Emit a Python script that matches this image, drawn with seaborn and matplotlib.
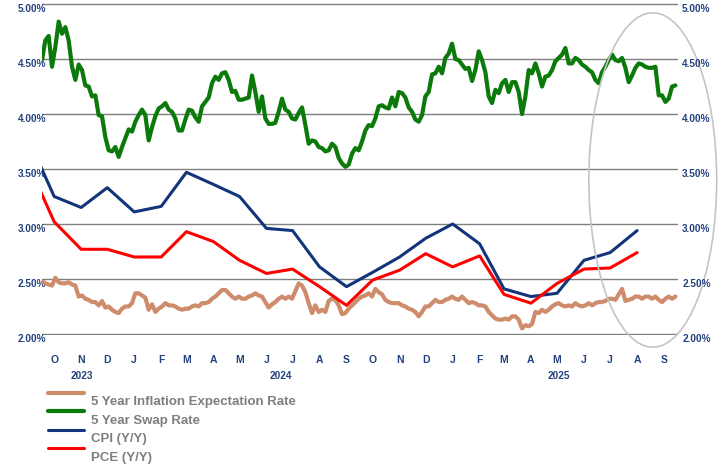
"""
Swap rate, inflation expectations and CPI / PCE prints, Oct 2023 - Sep 2025.
"""

import pandas as pd
import matplotlib
matplotlib.use("Agg")
import matplotlib.pyplot as plt
import matplotlib.dates as mdates
import matplotlib.transforms as mtransforms
from matplotlib.patches import Ellipse
import seaborn as sns

# daily series at even steps from 2023-10-01 to 2025-09-28
swap_5y = [
    4.49, 4.67, 4.71, 4.43, 4.61, 4.84, 4.73, 4.79, 4.67, 4.43,
    4.31, 4.45, 4.40, 4.26, 4.25, 4.16, 4.17, 3.99, 3.98, 3.79,
    3.67, 3.66, 3.70, 3.61, 3.70, 3.78, 3.86, 3.84, 3.93, 3.99,
    4.04, 3.99, 3.76, 3.88, 3.98, 4.05, 4.07, 4.10, 4.04, 4.02,
    3.96, 3.85, 3.85, 3.95, 4.04, 4.03, 3.97, 3.93, 4.07, 4.11,
    4.15, 4.28, 4.34, 4.31, 4.37, 4.38, 4.31, 4.20, 4.21, 4.13,
    4.13, 4.14, 4.15, 4.35,
    4.20, 4.02, 4.16, 3.96, 3.91, 3.91, 3.92, 4.02, 4.14, 4.04,
    4.02, 3.96, 3.95, 4.01, 4.06, 3.90, 3.73, 3.76, 3.75, 3.70,
    3.69, 3.66, 3.67, 3.73, 3.70, 3.60, 3.55, 3.52, 3.54, 3.64,
    3.69, 3.67, 3.75, 3.85, 3.90, 3.89, 3.96, 4.07, 4.08, 4.06,
    4.05, 4.15, 4.07, 4.20, 4.19, 4.15, 4.06, 4.02, 3.95, 3.93,
    3.99, 4.16, 4.20, 4.36, 4.37, 4.43, 4.37, 4.51, 4.55, 4.64,
    4.50, 4.49, 4.45,
    4.41, 4.42, 4.30, 4.40, 4.57, 4.49, 4.38, 4.16, 4.10, 4.22,
    4.19, 4.28, 4.31, 4.20, 4.29, 4.29, 4.20, 4.00, 4.16, 4.40,
    4.37, 4.46, 4.37, 4.25, 4.34, 4.35, 4.40, 4.48, 4.51, 4.54,
    4.60, 4.46, 4.46, 4.51, 4.49, 4.45, 4.43, 4.40, 4.38, 4.31,
    4.28, 4.38, 4.43, 4.49, 4.54, 4.49, 4.48, 4.51, 4.42, 4.29,
    4.35, 4.42, 4.46, 4.45, 4.43, 4.42, 4.42, 4.43, 4.17, 4.17,
    4.11, 4.14, 4.25, 4.26,
]

infl_exp_5y = [
    2.48, 2.46, 2.45, 2.44, 2.51, 2.47, 2.46, 2.46, 2.47, 2.45,
    2.44, 2.34, 2.35, 2.32, 2.31, 2.29, 2.29, 2.26, 2.30, 2.24,
    2.25, 2.22, 2.20, 2.19, 2.23, 2.25, 2.25, 2.28, 2.37, 2.37,
    2.35, 2.33, 2.22, 2.27, 2.20, 2.23, 2.25, 2.28, 2.26, 2.26,
    2.25, 2.23, 2.22, 2.23, 2.23, 2.25, 2.26, 2.25, 2.28, 2.28,
    2.29, 2.32, 2.34, 2.37, 2.40, 2.40, 2.37, 2.34, 2.32, 2.34,
    2.32, 2.32, 2.34, 2.35, 2.37, 2.35, 2.34, 2.29, 2.24, 2.27,
    2.29, 2.32, 2.34, 2.32, 2.34, 2.32, 2.39, 2.46, 2.44, 2.38,
    2.28, 2.19, 2.26, 2.20, 2.22, 2.20, 2.30, 2.32, 2.31, 2.26,
    2.18, 2.19, 2.23, 2.26, 2.29,
    2.32, 2.34, 2.35, 2.37, 2.34, 2.41, 2.38, 2.36, 2.31, 2.29,
    2.28, 2.28, 2.28, 2.26, 2.25, 2.23, 2.22, 2.20, 2.16, 2.20,
    2.25, 2.25, 2.28, 2.31, 2.29, 2.29, 2.31, 2.32, 2.34, 2.32,
    2.31, 2.34, 2.31, 2.28, 2.29, 2.28, 2.26, 2.26, 2.25, 2.20,
    2.17, 2.14, 2.13, 2.13, 2.14, 2.13, 2.16, 2.16, 2.13, 2.05,
    2.08, 2.07, 2.09, 2.20, 2.19, 2.22, 2.20, 2.22, 2.25, 2.27,
    2.28, 2.26, 2.25, 2.26, 2.25, 2.28, 2.26, 2.25, 2.26, 2.28,
    2.26, 2.28, 2.29, 2.29, 2.30, 2.32, 2.32, 2.31, 2.36, 2.41,
    2.30, 2.31, 2.32, 2.34, 2.34, 2.32, 2.34, 2.34, 2.32, 2.34,
    2.31, 2.29, 2.32, 2.34, 2.32, 2.34,
]

# monthly Y/Y prints, Sep 2023 .. Aug 2025
cpi_yy = [3.78, 3.25, 3.15, 3.33, 3.11, 3.16, 3.47, 3.36, 3.25, 2.96, 2.94, 2.61,
          2.43, 2.56, 2.70, 2.87, 3.00, 2.82, 2.41, 2.34, 2.37, 2.67, 2.74, 2.94]
pce_yy = [3.55, 3.02, 2.77, 2.77, 2.70, 2.70, 2.93, 2.84, 2.67, 2.55, 2.59, 2.43,
          2.26, 2.49, 2.58, 2.73, 2.61, 2.71, 2.36, 2.28, 2.46, 2.59, 2.60, 2.74]

month_letters = ["O", "N", "D", "J", "F", "M", "A", "M", "J", "J", "A", "S"] * 2
year_labels = ["2023", "2024", "2025"]
y_ticks = [2.0, 2.5, 3.0, 3.5, 4.0, 4.5, 5.0]

TAN = "#CE8C6C"
GREEN = "#0B7A0B"
NAVY = "#12347A"
RED = "#FF0000"
TICK_BLUE = "#23407F"

daily = pd.DataFrame({
    "date": pd.date_range("2023-10-01", "2025-09-28", periods=len(swap_5y)),
    "swap": swap_5y,
    "infl": infl_exp_5y,
})
monthly = pd.DataFrame({
    "date": pd.date_range("2023-09-01", periods=len(cpi_yy), freq="MS") + pd.Timedelta(days=14),
    "cpi": cpi_yy,
    "pce": pce_yy,
})

sns.set_style("white")
plt.rcParams["font.family"] = ["Liberation Sans", "DejaVu Sans"]

fig = plt.figure(figsize=(7.21, 4.65), dpi=100)
ax = fig.add_axes([42 / 721, 1 - 334.5 / 465, 636 / 721, 331 / 465])

sns.lineplot(data=daily, x="date", y="infl", ax=ax, color=TAN, linewidth=3,
             label="5 Year Inflation Expectation Rate", legend=False)
sns.lineplot(data=daily, x="date", y="swap", ax=ax, color=GREEN, linewidth=3,
             label="5 Year Swap Rate", legend=False)
sns.lineplot(data=monthly, x="date", y="cpi", ax=ax, color=NAVY, linewidth=2.2,
             label="CPI (Y/Y)", legend=False)
sns.lineplot(data=monthly, x="date", y="pce", ax=ax, color=RED, linewidth=2.2,
             label="PCE (Y/Y)", legend=False)

x_start, x_end = pd.Timestamp("2023-10-01"), pd.Timestamp("2025-10-01")
ax.set_xlim(x_start, x_end)
ax.set_ylim(1.995, 5.005)
ax.set_xlabel("")
ax.set_ylabel("")
ax.grid(axis="y", color="#7F7F7F", linewidth=1)
ax.grid(axis="x", visible=False)
sns.despine(ax=ax, left=True, bottom=True)

tick_font = dict(fontsize=7.2, fontweight="bold", color=TICK_BLUE)
ax.set_yticks(y_ticks)
ax.set_yticklabels([f"{v:.2f}%" for v in y_ticks], va="top", **tick_font)
ax.tick_params(axis="y", length=0, pad=-3)

month_ticks = pd.date_range(x_start, periods=24, freq="MS") + pd.Timedelta(days=14)
ax.set_xticks(month_ticks)
ax.set_xticklabels(month_letters, fontsize=7.5, fontweight="bold", color=TICK_BLUE)
ax.tick_params(axis="x", length=0, pad=15)

# year captions centred on the part of each year that is shown
bounds = [x_start, pd.Timestamp("2024-01-01"), pd.Timestamp("2025-01-01"), x_end]
year_trans = mtransforms.blended_transform_factory(ax.transData, ax.transAxes)
for i, yr in enumerate(year_labels):
    mid = bounds[i] + (bounds[i + 1] - bounds[i]) / 2
    ax.text(mdates.date2num(mid), -0.124, yr, transform=year_trans, ha="center",
            va="center", **tick_font)

ax2 = ax.twinx()
ax2.set_ylim(ax.get_ylim())
ax2.set_yticks(y_ticks)
ax2.set_yticklabels([f"{v:.2f}%" for v in y_ticks], va="top", **tick_font)
ax2.tick_params(axis="y", length=0, pad=3)
sns.despine(ax=ax2, left=True, bottom=True, right=True)

# highlight oval round the latest months
oval = Ellipse((mdates.date2num(pd.Timestamp("2025-09-02")), 3.40), width=147, height=3.04,
               fill=False, edgecolor="#C4C4C4", linewidth=1.2, clip_on=False, zorder=5)
ax.add_patch(oval)

handles, labels = ax.get_legend_handles_labels()
leg = fig.legend(handles, labels, loc="upper left", bbox_to_anchor=(48 / 721, 1 - 388 / 465),
                 frameon=False, borderpad=0, borderaxespad=0, handlelength=2.75,
                 handletextpad=0.5, labelspacing=0.48, labelcolor="#7F7F7F",
                 prop=dict(size=9.5, weight="bold"))
for t in leg.get_texts():
    t.set_transform(t.get_transform() + mtransforms.ScaledTranslation(0, -0.08, fig.dpi_scale_trans))

fig.savefig("out.png", dpi=100)
